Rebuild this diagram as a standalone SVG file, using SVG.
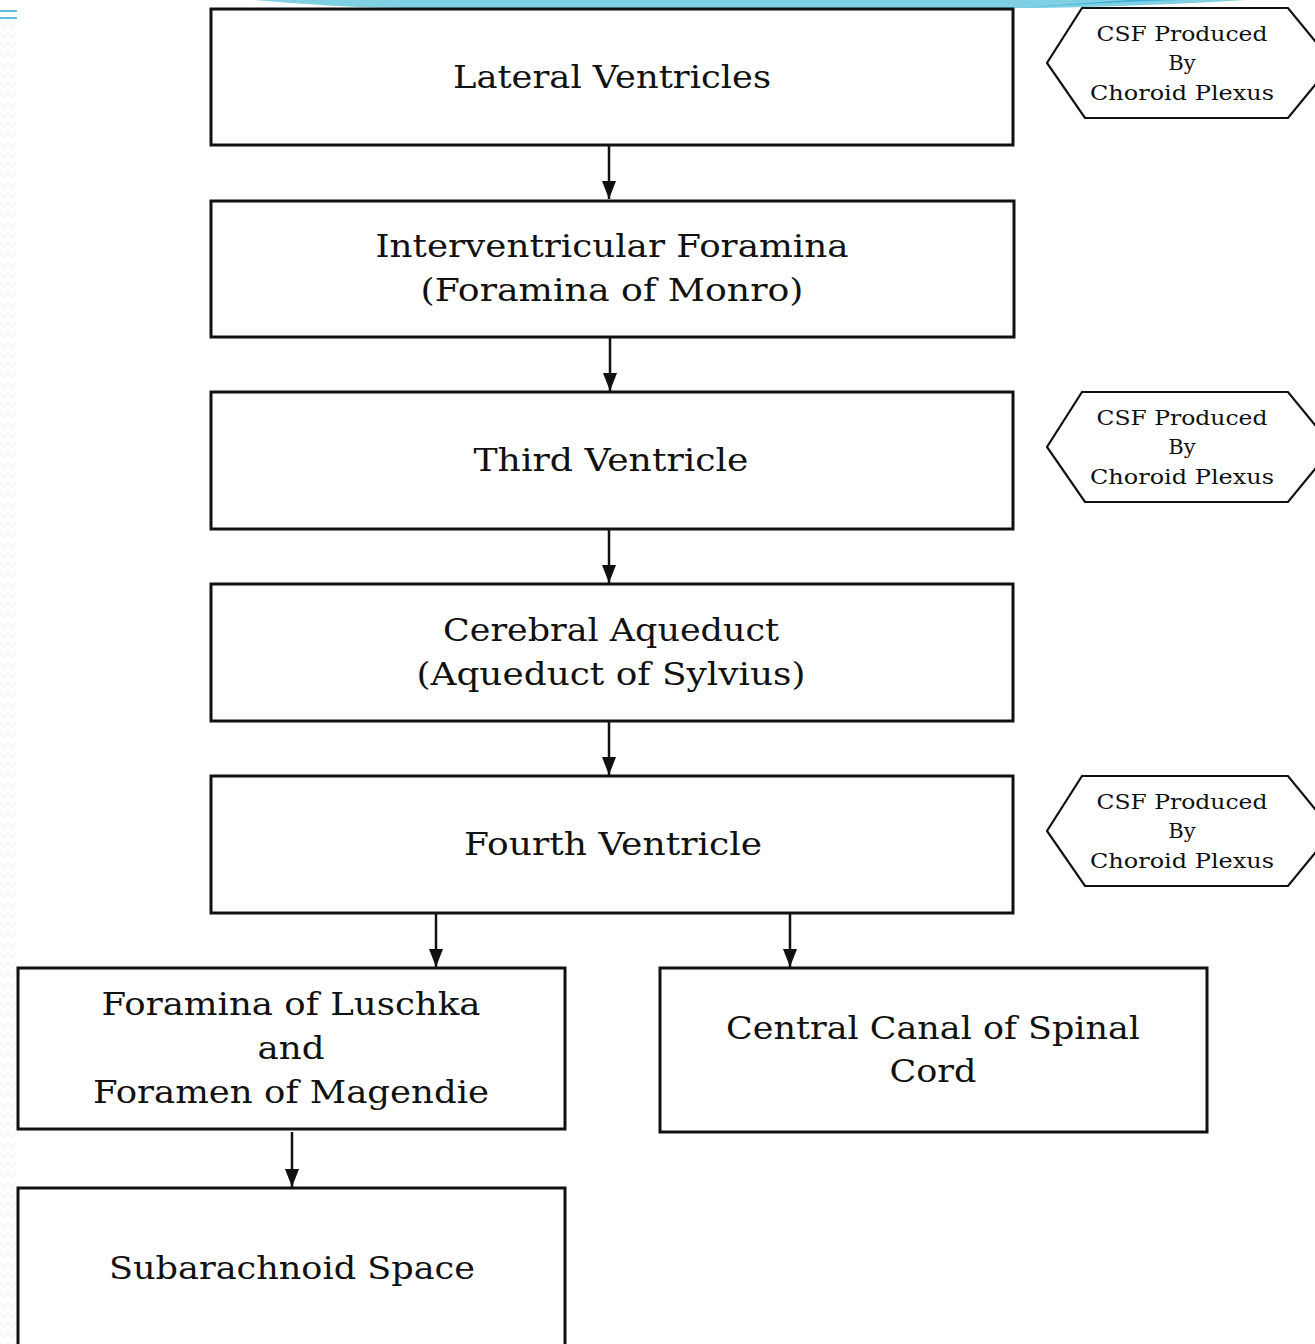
<svg xmlns="http://www.w3.org/2000/svg" width="1315" height="1344" viewBox="0 0 1315 1344">
<defs>
<style>
.box{fill:#fff;stroke:#111;stroke-width:3}
.hex{fill:#fff;stroke:#111;stroke-width:2.2}
.t{font-family:"DejaVu Serif","Liberation Serif",serif;font-size:32px;fill:#111;text-anchor:middle}
.h{font-family:"DejaVu Serif","Liberation Serif",serif;font-size:21px;fill:#111;text-anchor:middle}
.c{stroke:#111;stroke-width:2.5;fill:none}
</style>
<marker id="ah" viewBox="0 0 18 14" refX="18" refY="7" markerWidth="18" markerHeight="14" markerUnits="userSpaceOnUse" orient="auto">
<path d="M0,0 L18,7 L0,14 Z" fill="#111"/>
</marker>
<pattern id="wave" width="17" height="10" patternUnits="userSpaceOnUse">
<path d="M0,3 L4,7 L8,3 L12,7 L16,3" fill="none" stroke="#eeeeee" stroke-width="1"/>
</pattern>
</defs>
<rect x="0" y="0" width="1315" height="1344" fill="#fff"/>
<g id="decor">
<rect x="0" y="20" width="17" height="1324" fill="url(#wave)"/>
<path d="M255,0 Q330,7 400,8 L1040,8 Q1150,6 1245,0 Z" fill="#7fd0e3"/>
<path d="M1020,8 Q1110,2 1180,0 L1130,0 Q1070,4 1020,8 Z" fill="#3aaed6"/>
<rect x="0" y="10" width="17" height="2" fill="#5bc0de"/>
<rect x="0" y="17" width="17" height="2" fill="#5bc0de"/>
</g>
<g id="connectors">
<line class="c" x1="609" y1="145" x2="609" y2="199" marker-end="url(#ah)"/>
<line class="c" x1="610" y1="337" x2="610" y2="391" marker-end="url(#ah)"/>
<line class="c" x1="609" y1="529" x2="609" y2="583" marker-end="url(#ah)"/>
<line class="c" x1="609" y1="721" x2="609" y2="775" marker-end="url(#ah)"/>
<line class="c" x1="436" y1="913" x2="436" y2="967" marker-end="url(#ah)"/>
<line class="c" x1="790" y1="913" x2="790" y2="967" marker-end="url(#ah)"/>
<line class="c" x1="292" y1="1132" x2="292" y2="1187" marker-end="url(#ah)"/>
</g>
<g id="lateral-ventricles">
<rect class="box" x="211" y="9" width="802" height="136"/>
<text class="t" x="612" y="88" textLength="318" lengthAdjust="spacingAndGlyphs">Lateral Ventricles</text>
</g>
<g id="interventricular-foramina">
<rect class="box" x="211" y="201" width="803" height="136"/>
<text class="t" x="612" y="257" textLength="473" lengthAdjust="spacingAndGlyphs">Interventricular Foramina</text>
<text class="t" x="612" y="301" textLength="383" lengthAdjust="spacingAndGlyphs">(Foramina of Monro)</text>
</g>
<g id="third-ventricle">
<rect class="box" x="211" y="392" width="802" height="137"/>
<text class="t" x="611" y="471" textLength="275" lengthAdjust="spacingAndGlyphs">Third Ventricle</text>
</g>
<g id="cerebral-aqueduct">
<rect class="box" x="211" y="584" width="802" height="137"/>
<text class="t" x="611" y="641" textLength="336" lengthAdjust="spacingAndGlyphs">Cerebral Aqueduct</text>
<text class="t" x="611" y="685" textLength="389" lengthAdjust="spacingAndGlyphs">(Aqueduct of Sylvius)</text>
</g>
<g id="fourth-ventricle">
<rect class="box" x="211" y="776" width="802" height="137"/>
<text class="t" x="613" y="855" textLength="298" lengthAdjust="spacingAndGlyphs">Fourth Ventricle</text>
</g>
<g id="luschka-magendie">
<rect class="box" x="18" y="968" width="547" height="161"/>
<text class="t" x="291" y="1015" textLength="379" lengthAdjust="spacingAndGlyphs">Foramina of Luschka</text>
<text class="t" x="291" y="1059" textLength="67" lengthAdjust="spacingAndGlyphs">and</text>
<text class="t" x="291" y="1103" textLength="396" lengthAdjust="spacingAndGlyphs">Foramen of Magendie</text>
</g>
<g id="central-canal">
<rect class="box" x="660" y="968" width="547" height="164"/>
<text class="t" x="933" y="1039" textLength="414" lengthAdjust="spacingAndGlyphs">Central Canal of Spinal</text>
<text class="t" x="933" y="1082" textLength="87" lengthAdjust="spacingAndGlyphs">Cord</text>
</g>
<g id="subarachnoid-space">
<rect class="box" x="18" y="1188" width="547" height="170"/>
<text class="t" x="292" y="1279" textLength="366" lengthAdjust="spacingAndGlyphs">Subarachnoid Space</text>
</g>
<g id="csf-1">
<polygon class="hex" points="1082,8 1288,8 1333,63 1288,118 1085,118 1047,63"/>
<text class="h" x="1182" y="41" textLength="171" lengthAdjust="spacingAndGlyphs">CSF Produced</text>
<text class="h" x="1182" y="70">By</text>
<text class="h" x="1182" y="100" textLength="184" lengthAdjust="spacingAndGlyphs">Choroid Plexus</text>
</g>
<g id="csf-2">
<polygon class="hex" points="1082,392 1288,392 1333,447 1288,502 1085,502 1047,447"/>
<text class="h" x="1182" y="425" textLength="171" lengthAdjust="spacingAndGlyphs">CSF Produced</text>
<text class="h" x="1182" y="454">By</text>
<text class="h" x="1182" y="484" textLength="184" lengthAdjust="spacingAndGlyphs">Choroid Plexus</text>
</g>
<g id="csf-3">
<polygon class="hex" points="1082,776 1288,776 1333,831 1288,886 1085,886 1047,831"/>
<text class="h" x="1182" y="809" textLength="171" lengthAdjust="spacingAndGlyphs">CSF Produced</text>
<text class="h" x="1182" y="838">By</text>
<text class="h" x="1182" y="868" textLength="184" lengthAdjust="spacingAndGlyphs">Choroid Plexus</text>
</g>
</svg>
